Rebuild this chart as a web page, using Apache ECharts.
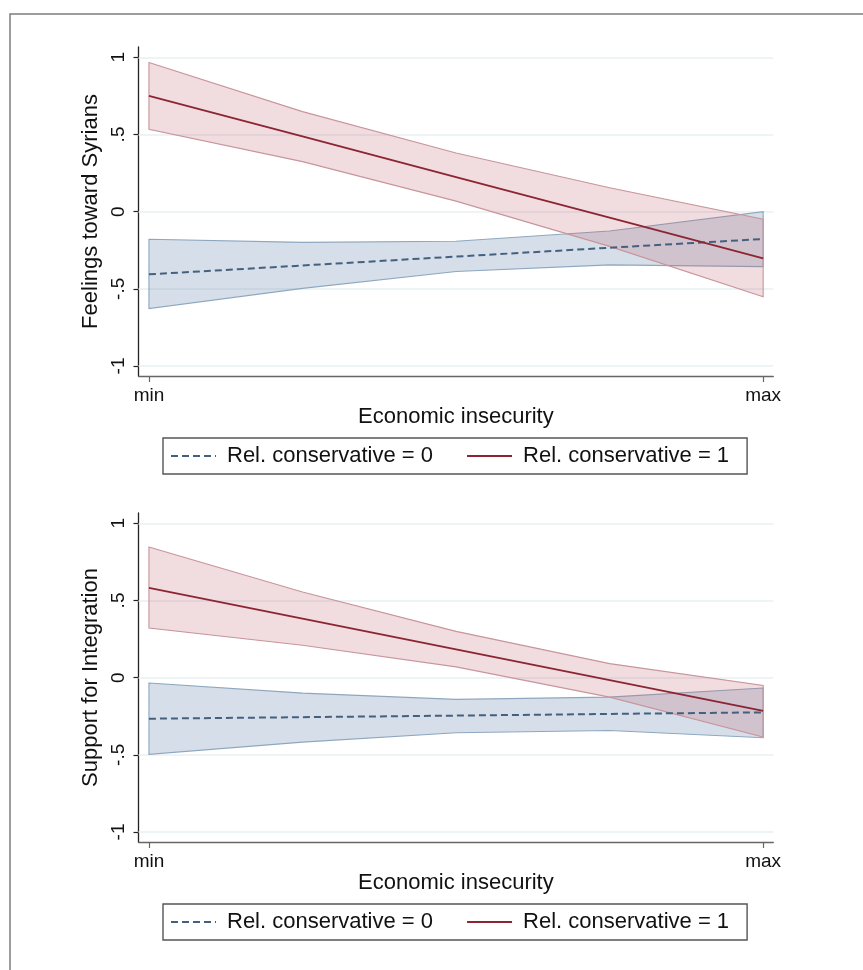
<!DOCTYPE html>
<html>
<head>
<meta charset="utf-8">
<script src="https://cdn.jsdelivr.net/npm/echarts@6/dist/echarts.min.js"></script>
<style>
  html, body { margin: 0; padding: 0; background: #ffffff; }
  #chart { width: 863px; height: 970px; }
</style>
</head>
<body>
<div id="chart"></div>
<script>
// ---- data ----
const xVals = [0, 0.25, 0.5, 0.75, 1];
const xTickVals = [0, 1];
const xTickLabels = ['min', 'max'];
const yTickVals = [-1, -0.5, 0, 0.5, 1];
const yTickLabels = ['-1', '-.5', '0', '.5', '1'];
const seriesNames = ['Rel. conservative = 0', 'Rel. conservative = 1'];
const yTitles = ['Feelings toward Syrians', 'Support for Integration'];
const xTitle = 'Economic insecurity';

// Top panel: Feelings toward Syrians
const syrBlueFit = [-0.406, -0.349, -0.291, -0.234, -0.177];
const syrBlueLo  = [-0.628, -0.497, -0.388, -0.345, -0.356];
const syrBlueHi  = [-0.179, -0.199, -0.192, -0.125, 0.000];
const syrRedFit  = [0.750, 0.487, 0.224, -0.039, -0.302];
const syrRedLo   = [0.534, 0.324, 0.068, -0.225, -0.551];
const syrRedHi   = [0.966, 0.648, 0.380, 0.155, -0.049];

// Bottom panel: Support for Integration
const intBlueFit = [-0.266, -0.256, -0.246, -0.235, -0.225];
const intBlueLo  = [-0.497, -0.418, -0.357, -0.342, -0.389];
const intBlueHi  = [-0.035, -0.100, -0.141, -0.126, -0.067];
const intRedFit  = [0.581, 0.382, 0.183, -0.016, -0.215];
const intRedLo   = [0.322, 0.210, 0.070, -0.126, -0.385];
const intRedHi   = [0.847, 0.555, 0.300, 0.091, -0.050];

// ---- styles ----
const FONT = "'Liberation Sans', Arial, sans-serif";
const BLUE_LINE = '#45607f';
const RED_LINE = '#8c2433';
const BLUE_FILL = 'rgba(95,132,170,0.26)';
const BLUE_EDGE = '#8ea7bf';
const RED_FILL = 'rgba(190,95,110,0.22)';
const RED_EDGE = '#c8959c';

const chart = echarts.init(document.getElementById('chart'), null, { renderer: 'canvas' });

function pairs(ys) { return xVals.map((x, i) => [x, ys[i]]); }

function bandSeries(gi, lo, hi, fill, edge, withGrid) {
  const s = {
    type: 'custom',
    xAxisIndex: gi, yAxisIndex: gi,
    silent: true,
    z: 2,
    data: xVals.map((x, i) => [x, lo[i], hi[i]]),
    encode: { x: 0, y: [1, 2] },
    renderItem: function (params, api) {
      if (params.dataIndex !== 0) return;
      const pts = [];
      for (let i = 0; i < xVals.length; i++) pts.push(api.coord([xVals[i], hi[i]]));
      for (let i = xVals.length - 1; i >= 0; i--) pts.push(api.coord([xVals[i], lo[i]]));
      return {
        type: 'polygon',
        shape: { points: pts },
        style: { fill: fill, stroke: edge, lineWidth: 1.1 }
      };
    }
  };
  if (withGrid) {
    s.markLine = {
      silent: true, symbol: 'none', z: 1, animation: false,
      label: { show: false },
      lineStyle: { color: '#e9eff3', width: 1.6, type: 'solid' },
      data: yTickVals.map(v => ({ yAxis: v }))
    };
  }
  return s;
}

function lineSeries(gi, name, ys, color, dash, width) {
  return {
    type: 'line', name: name,
    xAxisIndex: gi, yAxisIndex: gi,
    data: pairs(ys),
    symbol: 'none', silent: true, z: 4,
    lineStyle: { color: color, width: width, type: dash },
    itemStyle: { color: color }
  };
}

const gridTops = [47, 513];
const grids = gridTops.map(t => ({ left: 138.5, top: t, width: 634.8, height: 329 }));

const xAxes = [0, 1].map(gi => ({
  type: 'value', gridIndex: gi,
  min: -0.017, max: 1.0165,
  name: xTitle, nameLocation: 'middle', nameGap: 29,
  nameTextStyle: { fontFamily: FONT, fontSize: 22, color: '#111' },
  axisLine: { show: true, onZero: false, lineStyle: { color: '#666', width: 1.3 } },
  axisTick: { show: true, customValues: xTickVals, length: 6, lineStyle: { color: '#666', width: 1.2 } },
  axisLabel: {
    show: true, customValues: xTickVals, margin: 10,
    fontFamily: FONT, fontSize: 19, color: '#111',
    formatter: v => xTickLabels[xTickVals.indexOf(v)] ?? ''
  },
  splitLine: { show: false }
}));

const yAxes = [0, 1].map(gi => ({
  type: 'value', gridIndex: gi,
  min: -1.0648, max: 1.0667,
  name: yTitles[gi], nameLocation: 'middle', nameGap: 35, nameRotate: 90,
  nameTextStyle: { fontFamily: FONT, fontSize: 22, color: '#111' },
  axisLine: { show: true, onZero: false, lineStyle: { color: '#222', width: 1.3 } },
  axisTick: { show: true, customValues: yTickVals, length: 5, lineStyle: { color: '#222', width: 1.2 } },
  axisLabel: {
    show: true, customValues: yTickVals, margin: 10, rotate: 90,
    fontFamily: FONT, fontSize: 19, color: '#111',
    formatter: v => yTickLabels[yTickVals.indexOf(v)] ?? ''
  },
  splitLine: { show: false }
}));

const legends = [438, 904].map(t => ({
  left: 163, top: t,
  orient: 'horizontal',
  data: seriesNames,
  itemWidth: 45, itemHeight: 14, itemGap: 33,
  padding: [7, 18, 7, 7],
  borderColor: '#555', borderWidth: 1.4, borderRadius: 0,
  backgroundColor: '#fff',
  selectedMode: false,
  itemStyle: { opacity: 0 },
  textStyle: { fontFamily: FONT, fontSize: 22, color: '#111', lineHeight: 22, padding: [0, 0, 0, 6] }
}));

const option = {
  backgroundColor: '#ffffff',
  animation: false,
  grid: grids,
  xAxis: xAxes,
  yAxis: yAxes,
  legend: legends,
  graphic: [{
    type: 'rect', silent: true, z: 100,
    shape: { x: 10, y: 14, width: 900, height: 1000 },
    style: { fill: 'none', stroke: '#7d7d7d', lineWidth: 1.5 }
  }],
  series: [
    bandSeries(0, syrBlueLo, syrBlueHi, BLUE_FILL, BLUE_EDGE, true),
    bandSeries(0, syrRedLo, syrRedHi, RED_FILL, RED_EDGE, false),
    lineSeries(0, seriesNames[0], syrBlueFit, BLUE_LINE, [7, 4], 2),
    lineSeries(0, seriesNames[1], syrRedFit, RED_LINE, 'solid', 1.8),
    bandSeries(1, intBlueLo, intBlueHi, BLUE_FILL, BLUE_EDGE, true),
    bandSeries(1, intRedLo, intRedHi, RED_FILL, RED_EDGE, false),
    lineSeries(1, seriesNames[0], intBlueFit, BLUE_LINE, [7, 4], 2),
    lineSeries(1, seriesNames[1], intRedFit, RED_LINE, 'solid', 1.8)
  ]
};

chart.setOption(option);
</script>
</body>
</html>
